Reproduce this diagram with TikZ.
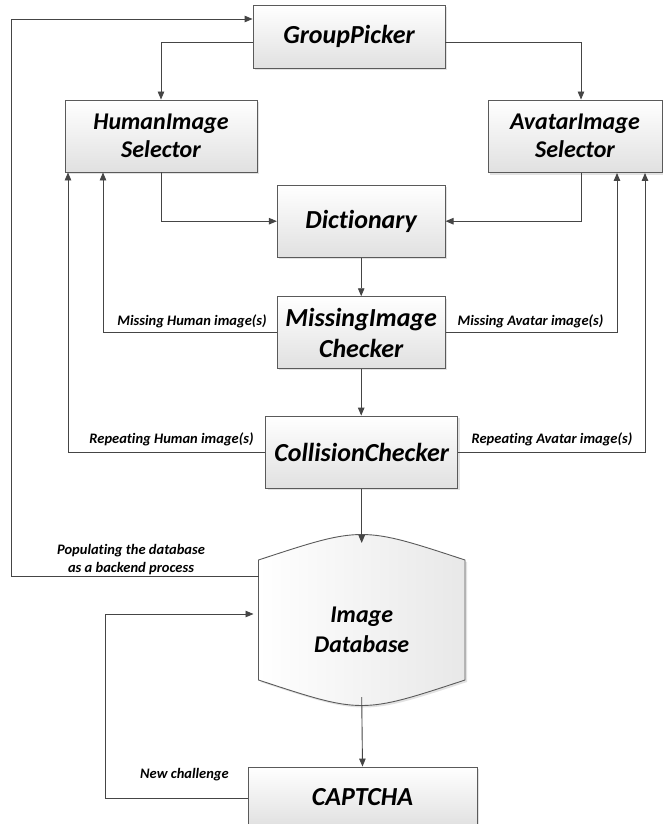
\documentclass[tikz,border=0pt]{standalone}
\usepackage{fontspec}
\setmainfont{Carlito}[RawFeature={-liga}]
\usetikzlibrary{arrows.meta,shadows}

\definecolor{linegray}{HTML}{454545}
\definecolor{boxgray}{HTML}{5A5A5A}

\begin{document}
\begin{tikzpicture}[x=1pt,y=-1pt,
  conn/.style={draw=linegray, line width=0.9pt},
  arr/.style={conn, -{Triangle[length=8pt,width=6.5pt]}},
  softshadow/.style={drop shadow={shadow xshift=2pt, shadow yshift=-2pt, opacity=0.25, fill=black!45}},
  box/.style={draw=boxgray, line width=0.9pt, top color=white, bottom color=black!12,
    softshadow, inner sep=0pt, align=center,
    font=\bfseries\itshape\fontsize{26}{31}\selectfont},
  selbox/.style={box, font=\bfseries\itshape\fontsize{24}{28}\selectfont},
  lbl/.style={inner sep=0pt, align=center, font=\bfseries\itshape\fontsize{14.5}{18}\selectfont}]

\useasboundingbox (0,0) rectangle (663,824);

% process boxes
\node[box, minimum width=192pt, minimum height=63pt] (gp) at (349,36.5) {GroupPicker};
\node[selbox, minimum width=192pt, minimum height=72pt] (hum) at (161,136) {HumanImage\\Selector};
\node[selbox, minimum width=174pt, minimum height=72.5pt] (ava) at (575,136.25) {AvatarImage\\Selector};
\node[box, minimum width=167.7pt, minimum height=72.3pt] (dict) at (361.2,221.2) {Dictionary};
\node[box, minimum width=167.7pt, minimum height=71.6pt] (mic) at (361.2,332.5) {MissingImage\\Checker};
\node[box, minimum width=192pt, minimum height=72.3pt] (col) at (361.7,452.2) {CollisionChecker};
\node[box, minimum width=229pt, minimum height=60pt] (cap) at (362.5,797) {CAPTCHA};

% image database drum
\path[draw=boxgray, line width=0.9pt, left color=white, right color=black!9, softshadow]
  (258.5,560) .. controls (361.7,526) .. (465,560) -- (465,680)
  .. controls (361.7,714) .. (258.5,680) -- cycle;
\node[inner sep=0pt, align=center, font=\bfseries\itshape\fontsize{24}{30}\selectfont]
  (db) at (361.7,630) {Image\\Database};
\coordinate (dbtop) at (361.7,543);
\coordinate (dbbot) at (361.7,697);
\coordinate (dbout) at (258.5,576);
\coordinate (dbin) at (258.5,614);

% connectors
\draw[arr] (dbout) -| ([xshift=-241pt,yshift=17.5pt]gp.west) -- ([yshift=17.5pt]gp.west);
\draw[arr] ([yshift=-5.5pt]gp.west) -| (hum.north);
\draw[arr] ([yshift=-5.5pt]gp.east) -| ([xshift=6pt]ava.north);
\draw[arr] (hum.south) |- (dict.west);
\draw[arr] ([xshift=6pt]ava.south) |- (dict.east);
\draw[arr] (dict.south) -- (mic.north);
\draw[arr] (mic.west) -| ([xshift=-58pt]hum.south);
\draw[arr] (mic.east) -| ([xshift=42pt]ava.south);
\draw[arr] (mic.south) -- (mic.south |- col.north);
\draw[arr] (col.west) -| ([xshift=-93pt]hum.south);
\draw[arr] (col.east) -| ([xshift=70pt]ava.south);
\draw[arr] (col.south) -- (dbtop);
\draw[arr] (dbbot) -- (cap.north);
\draw[arr, shorten >=5pt] ([yshift=-1pt]cap.west) -| ([xshift=-153.5pt]dbin) -- (dbin);

% connector labels
\node[lbl] (lmh) at (192,321) {Missing Human image(s)};
\node[lbl] (lma) at (530.5,321) {Missing Avatar image(s)};
\node[lbl] (lrh) at (171.5,439) {Repeating Human image(s)};
\node[lbl] (lra) at (552,439) {Repeating Avatar image(s)};
\node[lbl] (lpop) at (131,560) {Populating the database\\as a backend process};
\node[lbl] (lnew) at (184.5,775) {New challenge};
\end{tikzpicture}
\end{document}
